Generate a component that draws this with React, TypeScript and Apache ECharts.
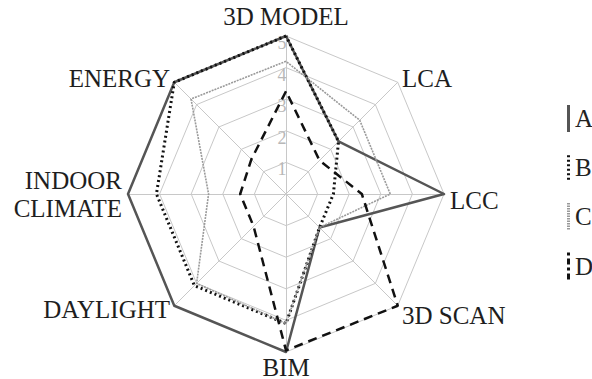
import React, { useEffect, useRef } from "react";
import * as echarts from "echarts";

// Indicators in ECharts radar order (start at top, counter-clockwise)
const categories = ["3D MODEL", "ENERGY", "INDOOR\nCLIMATE", "DAYLIGHT", "BIM", "3D SCAN", "LCC", "LCA"];
const maxValue = 5;
const seriesNames = ["A", "B", "C", "D"];
const valuesA = [5, 5, 5, 5, 5, 1.5, 5, 2.35];
const valuesB = [5, 5, 4.1, 4.1, 4.1, 1.5, 1.5, 2.35];
const valuesC = [4.2, 4.25, 2.45, 4.0, 4.1, 1.5, 3.3, 3.3];
const valuesD = [3.25, 1.55, 1.45, 1.45, 4.95, 5, 2.4, 1.5];

const SERIF = "'Liberation Serif', 'DejaVu Serif', serif";

export default function App() {
  const ref = useRef<HTMLDivElement>(null);
  useEffect(() => {
    if (!ref.current) return;
    const chart = echarts.init(ref.current, null, { renderer: "svg" });

    const dotsPath = (on: number, off: number) => {
      let d = "path://";
      for (let y = 0; y < 27; y += on + off) d += `M0,${y}h3v${on}h-3z `;
      return d;
    };
    const dashDotPath = "path://M0,0h3v3h-3z M0,6h3v6h-3z M0,15h3v3h-3z M0,21h3v6h-3z";

    const styles = [
      { color: "#555555", width: 2.5, type: "solid" as any, icon: "path://M0,0h3v27h-3z" },
      { color: "#111111", width: 3, type: [2, 3] as any, icon: dotsPath(2, 2.5) },
      { color: "#9a9a9a", width: 1.6, type: [2, 1] as any, icon: dotsPath(1.5, 1) },
      { color: "#111111", width: 2.5, type: [9, 6] as any, icon: dashDotPath },
    ];
    const allValues = [valuesA, valuesB, valuesC, valuesD];

    chart.setOption({
      animation: false,
      backgroundColor: "#ffffff",
      legend: {
        orient: "vertical",
        left: 562,
        top: 100,
        itemWidth: 3,
        itemHeight: 27,
        itemGap: 23,
        textStyle: { fontFamily: SERIF, fontSize: 25, color: "#222222" },
        data: seriesNames.map((n, i) => ({
          name: n,
          icon: styles[i].icon,
          itemStyle: { color: styles[i].color, borderWidth: 0 },
        })),
      },
      radar: {
        center: [286, 194],
        radius: 158,
        shape: "polygon",
        splitNumber: 5,
        startAngle: 90,
        nameGap: 6,
        axisName: {
          fontFamily: SERIF,
          fontSize: 25,
          color: "#1e1e1e",
          lineHeight: 28,
          formatter: (name: string) => (name === "BIM" ? "{b|BIM}" : name === "LCC" || name === "3D SCAN" ? `{l|${name}}` : name),
          rich: {
            b: { fontFamily: SERIF, fontSize: 25, color: "#1e1e1e", lineHeight: 18 },
            l: { fontFamily: SERIF, fontSize: 25, color: "#1e1e1e", lineHeight: 25, padding: [12, 0, 0, 0] },
          },
        },
        axisLine: { lineStyle: { color: "#c8c8c8", width: 1 } },
        splitLine: { lineStyle: { color: "#c8c8c8", width: 1 } },
        splitArea: { show: false },
        axisLabel: { show: false },
        indicator: categories.map((c, i) => ({
          name: c,
          min: 0,
          max: maxValue,
          ...(i === 0
            ? {
                axisLabel: {
                  show: true,
                  fontFamily: SERIF,
                  fontSize: 18,
                  color: "#b8b8b8",
                  margin: 0,
                  align: "center",
                  verticalAlign: "middle",
                  formatter: (v: number) => (v === 0 ? "" : `{n|${v}}`),
                  rich: {
                    n: { fontFamily: SERIF, fontSize: 18, color: "#b8b8b8", padding: [14, 8, 0, 0] },
                  },
                },
              }
            : {}),
        })),
      },
      series: [
        {
          type: "radar",
          symbol: "none",
          data: seriesNames.map((n, i) => ({
            name: n,
            value: allValues[i],
            itemStyle: { color: styles[i].color },
            lineStyle: { color: styles[i].color, width: styles[i].width, type: styles[i].type },
          })),
        },
      ],
    });
    return () => chart.dispose();
  }, []);
  return <div ref={ref} style={{ position: "absolute", left: 0, top: 0, width: 592, height: 379 }} />;
}
